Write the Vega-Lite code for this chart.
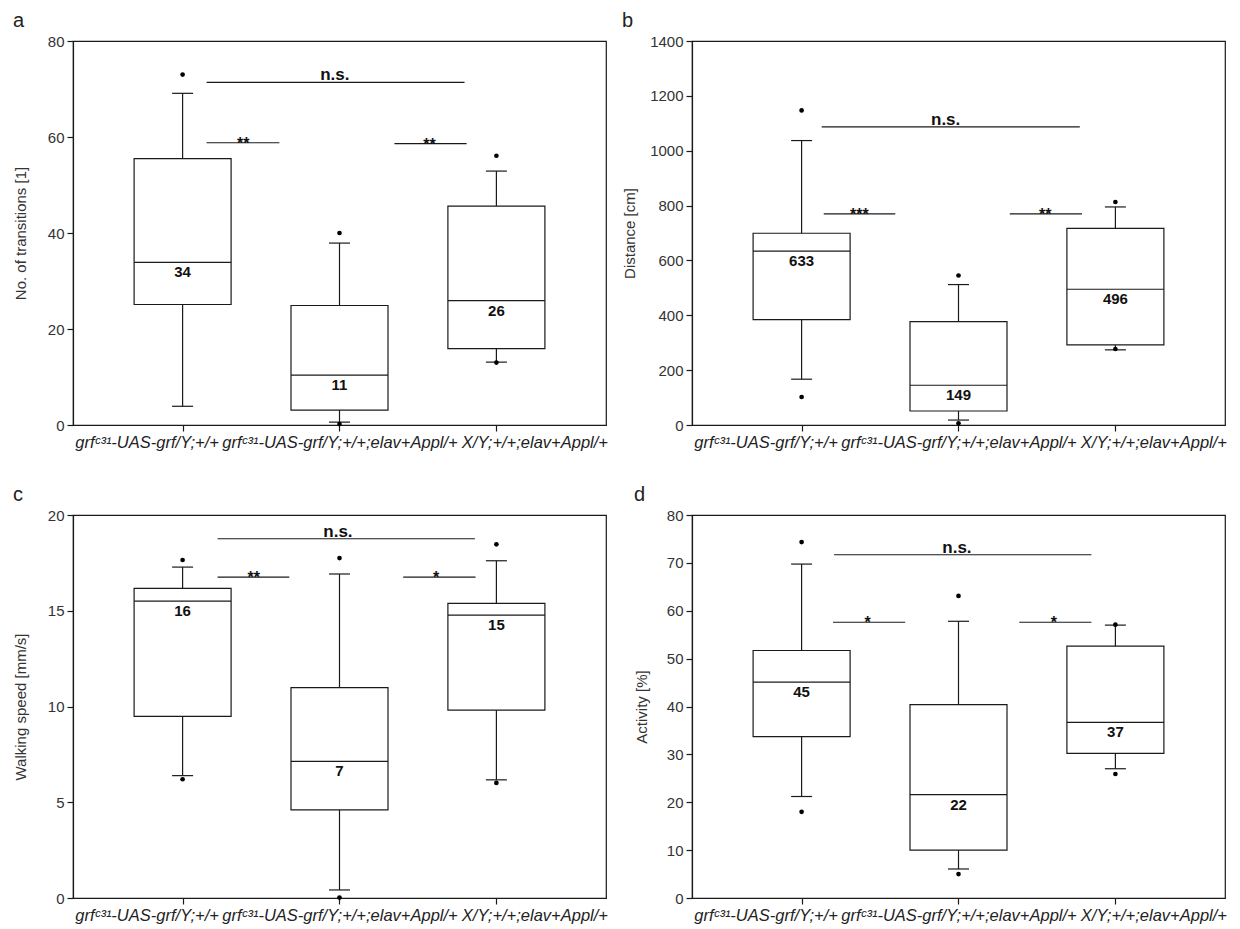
{
  "$schema": "https://vega.github.io/schema/vega-lite/v6.json",
  "padding": {"left": 12, "top": 10, "right": 5, "bottom": 5},
  "background": "white",
  "bounds": "flush",
  "columns": 2,
  "spacing": {"row": 90, "column": 86},
  "datasets": {
    "box": [
      {"panel": "a", "g": 1, "lo": 3.9, "q1": 25.1, "med": 33.9, "q3": 55.5, "hi": 69.1, "label": "34"},
      {"panel": "a", "g": 2, "lo": 0.6, "q1": 3.1, "med": 10.4, "q3": 24.9, "hi": 37.9, "label": "11"},
      {"panel": "a", "g": 3, "lo": 13.1, "q1": 15.9, "med": 25.9, "q3": 45.6, "hi": 52.9, "label": "26"},
      {"panel": "b", "g": 1, "lo": 167, "q1": 384, "med": 634, "q3": 699, "hi": 1037, "label": "633"},
      {"panel": "b", "g": 2, "lo": 18, "q1": 51, "med": 145, "q3": 377, "hi": 512, "label": "149"},
      {"panel": "b", "g": 3, "lo": 274, "q1": 292, "med": 495, "q3": 717, "hi": 795, "label": "496"},
      {"panel": "c", "g": 1, "lo": 6.39, "q1": 9.48, "med": 15.5, "q3": 16.17, "hi": 17.28, "label": "16"},
      {"panel": "c", "g": 2, "lo": 0.42, "q1": 4.6, "med": 7.13, "q3": 10.99, "hi": 16.92, "label": "7"},
      {"panel": "c", "g": 3, "lo": 6.17, "q1": 9.81, "med": 14.77, "q3": 15.38, "hi": 17.61, "label": "15"},
      {"panel": "d", "g": 1, "lo": 21.2, "q1": 33.7, "med": 45.1, "q3": 51.7, "hi": 69.75, "label": "45"},
      {"panel": "d", "g": 2, "lo": 6.06, "q1": 10.0, "med": 21.6, "q3": 40.4, "hi": 57.8, "label": "22"},
      {"panel": "d", "g": 3, "lo": 27.0, "q1": 30.2, "med": 36.7, "q3": 52.6, "hi": 57.0, "label": "37"}
    ],
    "out": [
      {"panel": "a", "g": 1, "v": 73.0}, {"panel": "a", "g": 2, "v": 40.0}, {"panel": "a", "g": 2, "v": 0.2},
      {"panel": "a", "g": 3, "v": 56.1}, {"panel": "a", "g": 3, "v": 13.0},
      {"panel": "b", "g": 1, "v": 1147}, {"panel": "b", "g": 1, "v": 102}, {"panel": "b", "g": 2, "v": 545},
      {"panel": "b", "g": 2, "v": 6}, {"panel": "b", "g": 3, "v": 813}, {"panel": "b", "g": 3, "v": 277},
      {"panel": "c", "g": 1, "v": 17.65}, {"panel": "c", "g": 1, "v": 6.2}, {"panel": "c", "g": 2, "v": 17.75},
      {"panel": "c", "g": 2, "v": 0.02}, {"panel": "c", "g": 3, "v": 18.47}, {"panel": "c", "g": 3, "v": 6.01},
      {"panel": "d", "g": 1, "v": 74.35}, {"panel": "d", "g": 1, "v": 18.0}, {"panel": "d", "g": 2, "v": 63.1},
      {"panel": "d", "g": 2, "v": 5.0}, {"panel": "d", "g": 3, "v": 57.1}, {"panel": "d", "g": 3, "v": 25.9}
    ],
    "sig": [
      {"panel": "a", "from": 1.153, "to": 2.797, "y": 71.4, "tx": 1.97, "text": "n.s."},
      {"panel": "a", "from": 1.153, "to": 1.617, "y": 58.8, "tx": 1.387, "text": "**"},
      {"panel": "a", "from": 2.35, "to": 2.81, "y": 58.6, "tx": 2.573, "text": "**"},
      {"panel": "b", "from": 1.128, "to": 2.773, "y": 1087, "tx": 1.918, "text": "n.s."},
      {"panel": "b", "from": 1.141, "to": 1.597, "y": 770, "tx": 1.368, "text": "***"},
      {"panel": "b", "from": 2.327, "to": 2.787, "y": 770, "tx": 2.553, "text": "**"},
      {"panel": "c", "from": 1.223, "to": 2.863, "y": 18.76, "tx": 1.99, "text": "n.s."},
      {"panel": "c", "from": 1.223, "to": 1.68, "y": 16.76, "tx": 1.453, "text": "**"},
      {"panel": "c", "from": 2.406, "to": 2.867, "y": 16.76, "tx": 2.616, "text": "*"},
      {"panel": "d", "from": 1.207, "to": 2.847, "y": 71.7, "tx": 1.99, "text": "n.s."},
      {"panel": "d", "from": 1.2, "to": 1.66, "y": 57.6, "tx": 1.42, "text": "*"},
      {"panel": "d", "from": 2.387, "to": 2.847, "y": 57.6, "tx": 2.607, "text": "*"}
    ]
  },
  "concat": [
    {
      "width": 533, "height": 384,
      "title": {"text": "a"},
      "layer": [
        {"data": {"name": "box"}, "transform": [{"filter": "datum.panel==='a'"}],
         "mark": {"type": "rule", "color": "#1a1a1a", "strokeWidth": 1.2},
         "encoding": {
           "x": {"field": "g", "type": "quantitative", "title": null, "scale": {"domain": [0.3333, 3.6667], "nice": false, "zero": false},
                 "axis": {"values": [1, 2, 3], "labelOverlap": false, "labelFlush": false, "labelBound": false, "labelLimit": 500,
                          "labelOffset": {"condition": [{"test": "datum.value==1", "value": -36}, {"test": "datum.value==3", "value": 38}], "value": 0},
                          "labelExpr": "datum.value==1 ? 'grfᶜ³¹-UAS-grf/Y;+/+' : datum.value==2 ? 'grfᶜ³¹-UAS-grf/Y;+/+;elav+Appl/+' : 'X/Y;+/+;elav+Appl/+'"}},
           "y": {"field": "lo", "type": "quantitative", "title": "No. of transitions [1]", "scale": {"domain": [0, 80], "nice": false, "zero": false},
                 "axis": {"values": [0, 20, 40, 60, 80], "format": "d", "titleX": -45, "titleY": 192}},
           "y2": {"field": "hi"}}},
        {"data": {"name": "box"}, "transform": [{"filter": "datum.panel==='a'"}],
         "mark": {"type": "bar", "width": 97, "fill": "white", "stroke": "#1a1a1a", "strokeWidth": 1.2},
         "encoding": {"x": {"field": "g", "type": "quantitative", "title": null}, "y": {"field": "q1", "type": "quantitative", "title": "No. of transitions [1]"}, "y2": {"field": "q3"}}},
        {"data": {"name": "box"}, "transform": [{"filter": "datum.panel==='a'"}],
         "mark": {"type": "tick", "orient": "horizontal", "size": 97, "thickness": 1.2, "color": "#1a1a1a", "opacity": 1},
         "encoding": {"x": {"field": "g", "type": "quantitative", "title": null}, "y": {"field": "med", "type": "quantitative", "title": "No. of transitions [1]"}}},
        {"data": {"name": "box"}, "transform": [{"filter": "datum.panel==='a'"}],
         "mark": {"type": "tick", "orient": "horizontal", "size": 21, "thickness": 1.2, "color": "#1a1a1a", "opacity": 1},
         "encoding": {"x": {"field": "g", "type": "quantitative", "title": null}, "y": {"field": "hi", "type": "quantitative", "title": "No. of transitions [1]"}}},
        {"data": {"name": "box"}, "transform": [{"filter": "datum.panel==='a'"}],
         "mark": {"type": "tick", "orient": "horizontal", "size": 21, "thickness": 1.2, "color": "#1a1a1a", "opacity": 1},
         "encoding": {"x": {"field": "g", "type": "quantitative", "title": null}, "y": {"field": "lo", "type": "quantitative", "title": "No. of transitions [1]"}}},
        {"data": {"name": "box"}, "transform": [{"filter": "datum.panel==='a'"}],
         "mark": {"type": "text", "baseline": "top", "dy": 3, "fontWeight": "bold", "fontSize": 15, "color": "#111"},
         "encoding": {"x": {"field": "g", "type": "quantitative", "title": null}, "y": {"field": "med", "type": "quantitative", "title": "No. of transitions [1]"}, "text": {"field": "label"}}},
        {"data": {"name": "out"}, "transform": [{"filter": "datum.panel==='a'"}],
         "mark": {"type": "circle", "size": 22, "color": "#000", "opacity": 1},
         "encoding": {"x": {"field": "g", "type": "quantitative", "title": null}, "y": {"field": "v", "type": "quantitative", "title": "No. of transitions [1]"}}},
        {"data": {"name": "sig"}, "transform": [{"filter": "datum.panel==='a'"}],
         "mark": {"type": "rule", "color": "#1a1a1a", "strokeWidth": 1.2},
         "encoding": {"x": {"field": "from", "type": "quantitative", "title": null}, "x2": {"field": "to"}, "y": {"field": "y", "type": "quantitative", "title": "No. of transitions [1]"}}},
        {"data": {"name": "sig"}, "transform": [{"filter": "datum.panel==='a' && datum.text==='n.s.'"}],
         "mark": {"type": "text", "baseline": "alphabetic", "dy": -2, "fontWeight": "bold", "fontSize": 17, "color": "#111"},
         "encoding": {"x": {"field": "tx", "type": "quantitative", "title": null}, "y": {"field": "y", "type": "quantitative", "title": "No. of transitions [1]"}, "text": {"field": "text"}}},
        {"data": {"name": "sig"}, "transform": [{"filter": "datum.panel==='a' && datum.text!=='n.s.'"}],
         "mark": {"type": "text", "baseline": "alphabetic", "dy": 6, "fontWeight": "bold", "fontSize": 16, "color": "#111"},
         "encoding": {"x": {"field": "tx", "type": "quantitative", "title": null}, "y": {"field": "y", "type": "quantitative", "title": "No. of transitions [1]"}, "text": {"field": "text"}}}
      ]
    },
    {
      "width": 533, "height": 384,
      "title": {"text": "b"},
      "layer": [
        {"data": {"name": "box"}, "transform": [{"filter": "datum.panel==='b'"}],
         "mark": {"type": "rule", "color": "#1a1a1a", "strokeWidth": 1.2},
         "encoding": {
           "x": {"field": "g", "type": "quantitative", "title": null, "scale": {"domain": [0.3333, 3.6667], "nice": false, "zero": false},
                 "axis": {"values": [1, 2, 3], "labelOverlap": false, "labelFlush": false, "labelBound": false, "labelLimit": 500,
                          "labelOffset": {"condition": [{"test": "datum.value==1", "value": -36}, {"test": "datum.value==3", "value": 38}], "value": 0},
                          "labelExpr": "datum.value==1 ? 'grfᶜ³¹-UAS-grf/Y;+/+' : datum.value==2 ? 'grfᶜ³¹-UAS-grf/Y;+/+;elav+Appl/+' : 'X/Y;+/+;elav+Appl/+'"}},
           "y": {"field": "lo", "type": "quantitative", "title": "Distance [cm]", "scale": {"domain": [0, 1400], "nice": false, "zero": false},
                 "axis": {"values": [0, 200, 400, 600, 800, 1000, 1200, 1400], "format": "d", "titleX": -55, "titleY": 192}},
           "y2": {"field": "hi"}}},
        {"data": {"name": "box"}, "transform": [{"filter": "datum.panel==='b'"}],
         "mark": {"type": "bar", "width": 97, "fill": "white", "stroke": "#1a1a1a", "strokeWidth": 1.2},
         "encoding": {"x": {"field": "g", "type": "quantitative", "title": null}, "y": {"field": "q1", "type": "quantitative", "title": "Distance [cm]"}, "y2": {"field": "q3"}}},
        {"data": {"name": "box"}, "transform": [{"filter": "datum.panel==='b'"}],
         "mark": {"type": "tick", "orient": "horizontal", "size": 97, "thickness": 1.2, "color": "#1a1a1a", "opacity": 1},
         "encoding": {"x": {"field": "g", "type": "quantitative", "title": null}, "y": {"field": "med", "type": "quantitative", "title": "Distance [cm]"}}},
        {"data": {"name": "box"}, "transform": [{"filter": "datum.panel==='b'"}],
         "mark": {"type": "tick", "orient": "horizontal", "size": 21, "thickness": 1.2, "color": "#1a1a1a", "opacity": 1},
         "encoding": {"x": {"field": "g", "type": "quantitative", "title": null}, "y": {"field": "hi", "type": "quantitative", "title": "Distance [cm]"}}},
        {"data": {"name": "box"}, "transform": [{"filter": "datum.panel==='b'"}],
         "mark": {"type": "tick", "orient": "horizontal", "size": 21, "thickness": 1.2, "color": "#1a1a1a", "opacity": 1},
         "encoding": {"x": {"field": "g", "type": "quantitative", "title": null}, "y": {"field": "lo", "type": "quantitative", "title": "Distance [cm]"}}},
        {"data": {"name": "box"}, "transform": [{"filter": "datum.panel==='b'"}],
         "mark": {"type": "text", "baseline": "top", "dy": 3, "fontWeight": "bold", "fontSize": 15, "color": "#111"},
         "encoding": {"x": {"field": "g", "type": "quantitative", "title": null}, "y": {"field": "med", "type": "quantitative", "title": "Distance [cm]"}, "text": {"field": "label"}}},
        {"data": {"name": "out"}, "transform": [{"filter": "datum.panel==='b'"}],
         "mark": {"type": "circle", "size": 22, "color": "#000", "opacity": 1},
         "encoding": {"x": {"field": "g", "type": "quantitative", "title": null}, "y": {"field": "v", "type": "quantitative", "title": "Distance [cm]"}}},
        {"data": {"name": "sig"}, "transform": [{"filter": "datum.panel==='b'"}],
         "mark": {"type": "rule", "color": "#1a1a1a", "strokeWidth": 1.2},
         "encoding": {"x": {"field": "from", "type": "quantitative", "title": null}, "x2": {"field": "to"}, "y": {"field": "y", "type": "quantitative", "title": "Distance [cm]"}}},
        {"data": {"name": "sig"}, "transform": [{"filter": "datum.panel==='b' && datum.text==='n.s.'"}],
         "mark": {"type": "text", "baseline": "alphabetic", "dy": -2, "fontWeight": "bold", "fontSize": 17, "color": "#111"},
         "encoding": {"x": {"field": "tx", "type": "quantitative", "title": null}, "y": {"field": "y", "type": "quantitative", "title": "Distance [cm]"}, "text": {"field": "text"}}},
        {"data": {"name": "sig"}, "transform": [{"filter": "datum.panel==='b' && datum.text!=='n.s.'"}],
         "mark": {"type": "text", "baseline": "alphabetic", "dy": 6, "fontWeight": "bold", "fontSize": 16, "color": "#111"},
         "encoding": {"x": {"field": "tx", "type": "quantitative", "title": null}, "y": {"field": "y", "type": "quantitative", "title": "Distance [cm]"}, "text": {"field": "text"}}}
      ]
    },
    {
      "width": 533, "height": 383,
      "title": {"text": "c"},
      "layer": [
        {"data": {"name": "box"}, "transform": [{"filter": "datum.panel==='c'"}],
         "mark": {"type": "rule", "color": "#1a1a1a", "strokeWidth": 1.2},
         "encoding": {
           "x": {"field": "g", "type": "quantitative", "title": null, "scale": {"domain": [0.3333, 3.6667], "nice": false, "zero": false},
                 "axis": {"values": [1, 2, 3], "labelOverlap": false, "labelFlush": false, "labelBound": false, "labelLimit": 500,
                          "labelOffset": {"condition": [{"test": "datum.value==1", "value": -36}, {"test": "datum.value==3", "value": 38}], "value": 0},
                          "labelExpr": "datum.value==1 ? 'grfᶜ³¹-UAS-grf/Y;+/+' : datum.value==2 ? 'grfᶜ³¹-UAS-grf/Y;+/+;elav+Appl/+' : 'X/Y;+/+;elav+Appl/+'"}},
           "y": {"field": "lo", "type": "quantitative", "title": "Walking speed [mm/s]", "scale": {"domain": [0, 20], "nice": false, "zero": false},
                 "axis": {"values": [0, 5, 10, 15, 20], "format": "d", "titleX": -45, "titleY": 191.5}},
           "y2": {"field": "hi"}}},
        {"data": {"name": "box"}, "transform": [{"filter": "datum.panel==='c'"}],
         "mark": {"type": "bar", "width": 97, "fill": "white", "stroke": "#1a1a1a", "strokeWidth": 1.2},
         "encoding": {"x": {"field": "g", "type": "quantitative", "title": null}, "y": {"field": "q1", "type": "quantitative", "title": "Walking speed [mm/s]"}, "y2": {"field": "q3"}}},
        {"data": {"name": "box"}, "transform": [{"filter": "datum.panel==='c'"}],
         "mark": {"type": "tick", "orient": "horizontal", "size": 97, "thickness": 1.2, "color": "#1a1a1a", "opacity": 1},
         "encoding": {"x": {"field": "g", "type": "quantitative", "title": null}, "y": {"field": "med", "type": "quantitative", "title": "Walking speed [mm/s]"}}},
        {"data": {"name": "box"}, "transform": [{"filter": "datum.panel==='c'"}],
         "mark": {"type": "tick", "orient": "horizontal", "size": 21, "thickness": 1.2, "color": "#1a1a1a", "opacity": 1},
         "encoding": {"x": {"field": "g", "type": "quantitative", "title": null}, "y": {"field": "hi", "type": "quantitative", "title": "Walking speed [mm/s]"}}},
        {"data": {"name": "box"}, "transform": [{"filter": "datum.panel==='c'"}],
         "mark": {"type": "tick", "orient": "horizontal", "size": 21, "thickness": 1.2, "color": "#1a1a1a", "opacity": 1},
         "encoding": {"x": {"field": "g", "type": "quantitative", "title": null}, "y": {"field": "lo", "type": "quantitative", "title": "Walking speed [mm/s]"}}},
        {"data": {"name": "box"}, "transform": [{"filter": "datum.panel==='c'"}],
         "mark": {"type": "text", "baseline": "top", "dy": 3, "fontWeight": "bold", "fontSize": 15, "color": "#111"},
         "encoding": {"x": {"field": "g", "type": "quantitative", "title": null}, "y": {"field": "med", "type": "quantitative", "title": "Walking speed [mm/s]"}, "text": {"field": "label"}}},
        {"data": {"name": "out"}, "transform": [{"filter": "datum.panel==='c'"}],
         "mark": {"type": "circle", "size": 22, "color": "#000", "opacity": 1},
         "encoding": {"x": {"field": "g", "type": "quantitative", "title": null}, "y": {"field": "v", "type": "quantitative", "title": "Walking speed [mm/s]"}}},
        {"data": {"name": "sig"}, "transform": [{"filter": "datum.panel==='c'"}],
         "mark": {"type": "rule", "color": "#1a1a1a", "strokeWidth": 1.2},
         "encoding": {"x": {"field": "from", "type": "quantitative", "title": null}, "x2": {"field": "to"}, "y": {"field": "y", "type": "quantitative", "title": "Walking speed [mm/s]"}}},
        {"data": {"name": "sig"}, "transform": [{"filter": "datum.panel==='c' && datum.text==='n.s.'"}],
         "mark": {"type": "text", "baseline": "alphabetic", "dy": -2, "fontWeight": "bold", "fontSize": 17, "color": "#111"},
         "encoding": {"x": {"field": "tx", "type": "quantitative", "title": null}, "y": {"field": "y", "type": "quantitative", "title": "Walking speed [mm/s]"}, "text": {"field": "text"}}},
        {"data": {"name": "sig"}, "transform": [{"filter": "datum.panel==='c' && datum.text!=='n.s.'"}],
         "mark": {"type": "text", "baseline": "alphabetic", "dy": 6, "fontWeight": "bold", "fontSize": 16, "color": "#111"},
         "encoding": {"x": {"field": "tx", "type": "quantitative", "title": null}, "y": {"field": "y", "type": "quantitative", "title": "Walking speed [mm/s]"}, "text": {"field": "text"}}}
      ]
    },
    {
      "width": 533, "height": 383,
      "title": {"text": "d"},
      "layer": [
        {"data": {"name": "box"}, "transform": [{"filter": "datum.panel==='d'"}],
         "mark": {"type": "rule", "color": "#1a1a1a", "strokeWidth": 1.2},
         "encoding": {
           "x": {"field": "g", "type": "quantitative", "title": null, "scale": {"domain": [0.3333, 3.6667], "nice": false, "zero": false},
                 "axis": {"values": [1, 2, 3], "labelOverlap": false, "labelFlush": false, "labelBound": false, "labelLimit": 500,
                          "labelOffset": {"condition": [{"test": "datum.value==1", "value": -36}, {"test": "datum.value==3", "value": 38}], "value": 0},
                          "labelExpr": "datum.value==1 ? 'grfᶜ³¹-UAS-grf/Y;+/+' : datum.value==2 ? 'grfᶜ³¹-UAS-grf/Y;+/+;elav+Appl/+' : 'X/Y;+/+;elav+Appl/+'"}},
           "y": {"field": "lo", "type": "quantitative", "title": "Activity [%]", "scale": {"domain": [0, 80], "nice": false, "zero": false},
                 "axis": {"values": [0, 10, 20, 30, 40, 50, 60, 70, 80], "format": "d", "titleX": -43, "titleY": 191.5}},
           "y2": {"field": "hi"}}},
        {"data": {"name": "box"}, "transform": [{"filter": "datum.panel==='d'"}],
         "mark": {"type": "bar", "width": 97, "fill": "white", "stroke": "#1a1a1a", "strokeWidth": 1.2},
         "encoding": {"x": {"field": "g", "type": "quantitative", "title": null}, "y": {"field": "q1", "type": "quantitative", "title": "Activity [%]"}, "y2": {"field": "q3"}}},
        {"data": {"name": "box"}, "transform": [{"filter": "datum.panel==='d'"}],
         "mark": {"type": "tick", "orient": "horizontal", "size": 97, "thickness": 1.2, "color": "#1a1a1a", "opacity": 1},
         "encoding": {"x": {"field": "g", "type": "quantitative", "title": null}, "y": {"field": "med", "type": "quantitative", "title": "Activity [%]"}}},
        {"data": {"name": "box"}, "transform": [{"filter": "datum.panel==='d'"}],
         "mark": {"type": "tick", "orient": "horizontal", "size": 21, "thickness": 1.2, "color": "#1a1a1a", "opacity": 1},
         "encoding": {"x": {"field": "g", "type": "quantitative", "title": null}, "y": {"field": "hi", "type": "quantitative", "title": "Activity [%]"}}},
        {"data": {"name": "box"}, "transform": [{"filter": "datum.panel==='d'"}],
         "mark": {"type": "tick", "orient": "horizontal", "size": 21, "thickness": 1.2, "color": "#1a1a1a", "opacity": 1},
         "encoding": {"x": {"field": "g", "type": "quantitative", "title": null}, "y": {"field": "lo", "type": "quantitative", "title": "Activity [%]"}}},
        {"data": {"name": "box"}, "transform": [{"filter": "datum.panel==='d'"}],
         "mark": {"type": "text", "baseline": "top", "dy": 3, "fontWeight": "bold", "fontSize": 15, "color": "#111"},
         "encoding": {"x": {"field": "g", "type": "quantitative", "title": null}, "y": {"field": "med", "type": "quantitative", "title": "Activity [%]"}, "text": {"field": "label"}}},
        {"data": {"name": "out"}, "transform": [{"filter": "datum.panel==='d'"}],
         "mark": {"type": "circle", "size": 22, "color": "#000", "opacity": 1},
         "encoding": {"x": {"field": "g", "type": "quantitative", "title": null}, "y": {"field": "v", "type": "quantitative", "title": "Activity [%]"}}},
        {"data": {"name": "sig"}, "transform": [{"filter": "datum.panel==='d'"}],
         "mark": {"type": "rule", "color": "#1a1a1a", "strokeWidth": 1.2},
         "encoding": {"x": {"field": "from", "type": "quantitative", "title": null}, "x2": {"field": "to"}, "y": {"field": "y", "type": "quantitative", "title": "Activity [%]"}}},
        {"data": {"name": "sig"}, "transform": [{"filter": "datum.panel==='d' && datum.text==='n.s.'"}],
         "mark": {"type": "text", "baseline": "alphabetic", "dy": -2, "fontWeight": "bold", "fontSize": 17, "color": "#111"},
         "encoding": {"x": {"field": "tx", "type": "quantitative", "title": null}, "y": {"field": "y", "type": "quantitative", "title": "Activity [%]"}, "text": {"field": "text"}}},
        {"data": {"name": "sig"}, "transform": [{"filter": "datum.panel==='d' && datum.text!=='n.s.'"}],
         "mark": {"type": "text", "baseline": "alphabetic", "dy": 6, "fontWeight": "bold", "fontSize": 16, "color": "#111"},
         "encoding": {"x": {"field": "tx", "type": "quantitative", "title": null}, "y": {"field": "y", "type": "quantitative", "title": "Activity [%]"}, "text": {"field": "text"}}}
      ]
    }
  ],
  "config": {
    "view": {"stroke": "#1a1a1a", "strokeWidth": 1.2},
    "font": "Liberation Sans",
    "axis": {"grid": false, "domainColor": "#1a1a1a", "domainWidth": 1.2, "tickColor": "#1a1a1a", "tickWidth": 1.2, "tickSize": 6,
             "labelColor": "#333", "titleColor": "#333", "labelFont": "Liberation Sans", "titleFont": "Liberation Sans",
             "labelFontSize": 15, "titleFontSize": 15, "titleFontWeight": "normal", "labelPadding": 3},
    "axisX": {"labelFontStyle": "italic", "labelFontSize": 16.5, "labelColor": "#222"},
    "title": {"anchor": "start", "frame": "bounds", "font": "Liberation Sans", "fontSize": 20, "fontWeight": "normal", "color": "#222", "offset": 3},
    "text": {"font": "Liberation Sans"}
  }
}
